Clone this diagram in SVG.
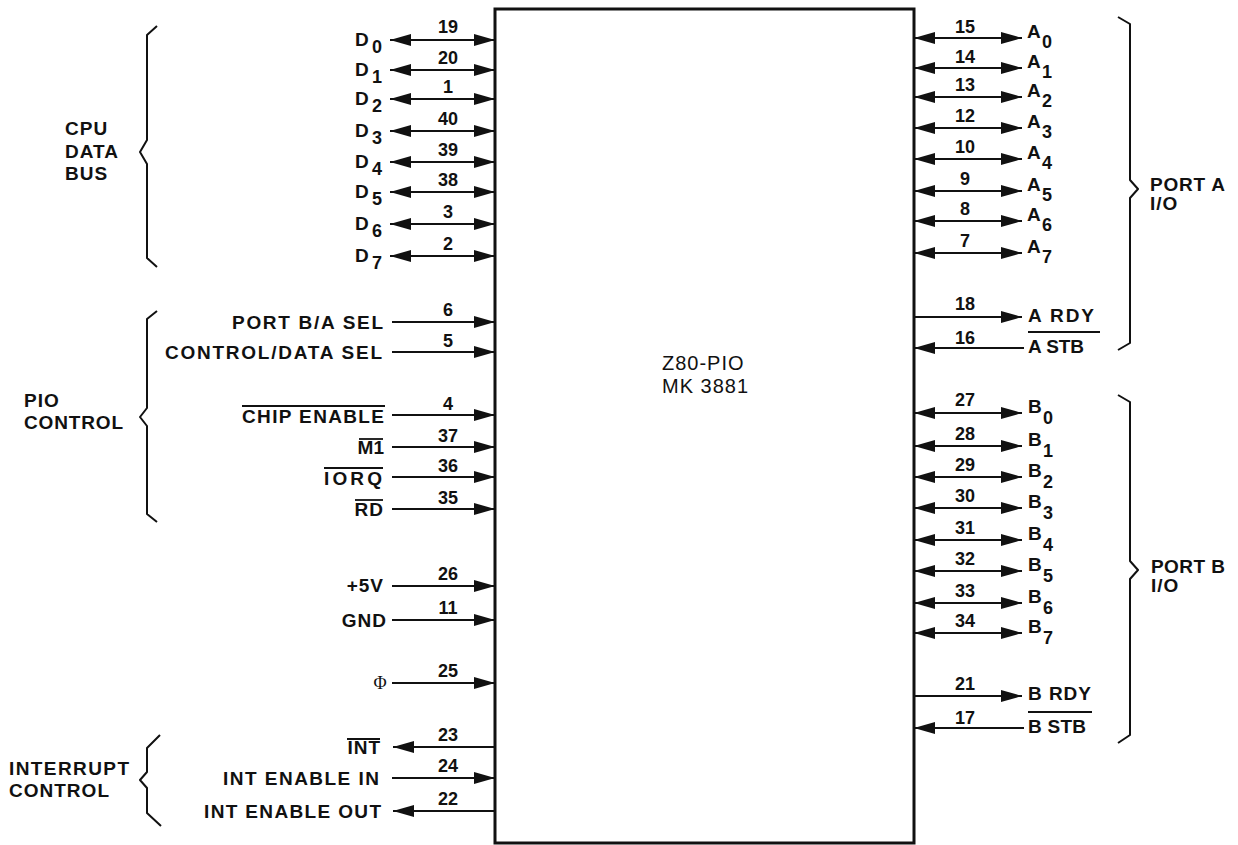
<svg xmlns="http://www.w3.org/2000/svg" width="1238" height="845" viewBox="0 0 1238 845">
<style>
text{font-family:"Liberation Sans",Arial,sans-serif;fill:#111;}
.lb{font-size:19px;font-weight:bold;letter-spacing:1px;}
.e{text-anchor:end;}
.num{font-size:18px;font-weight:bold;text-anchor:middle;}
.sub{font-size:18px;letter-spacing:0;}
.ctr{font-size:20px;font-weight:normal;letter-spacing:1px;}
.w{stroke:#111;stroke-width:2;fill:none;}
.bi{marker-start:url(#ah);marker-end:url(#ah);}
.in{marker-end:url(#ah);}
.ov{stroke:#111;stroke-width:1.8;}
.br{stroke:#111;stroke-width:2;fill:none;stroke-linejoin:round;}
</style>
<defs>
<marker id="ah" markerUnits="userSpaceOnUse" markerWidth="22" markerHeight="12" refX="21" refY="6" orient="auto-start-reverse">
<path d="M0,0 L21,6 L0,12 Z" fill="#111"/>
</marker>
</defs>
<rect width="1238" height="845" fill="#fff"/>

<g id="chip">
<rect x="495" y="9" width="419" height="834" fill="#fff" stroke="#111" stroke-width="3"/>
<text class="ctr" x="662" y="370">Z80-PIO</text>
<text class="ctr" x="662" y="393">MK 3881</text>
</g>

<g id="connectors">
<line class="w bi" x1="390" y1="40" x2="495" y2="40"/>
<line class="w bi" x1="390" y1="70" x2="495" y2="70"/>
<line class="w bi" x1="390" y1="99" x2="495" y2="99"/>
<line class="w bi" x1="390" y1="131" x2="495" y2="131"/>
<line class="w bi" x1="390" y1="162" x2="495" y2="162"/>
<line class="w bi" x1="390" y1="192" x2="495" y2="192"/>
<line class="w bi" x1="390" y1="224" x2="495" y2="224"/>
<line class="w bi" x1="390" y1="256" x2="495" y2="256"/>
<line class="w in" x1="392" y1="322" x2="495" y2="322"/>
<line class="w in" x1="392" y1="352" x2="495" y2="352"/>
<line class="w in" x1="392" y1="415" x2="495" y2="415"/>
<line class="w in" x1="392" y1="447" x2="495" y2="447"/>
<line class="w in" x1="392" y1="477" x2="495" y2="477"/>
<line class="w in" x1="392" y1="509" x2="495" y2="509"/>
<line class="w in" x1="392" y1="586" x2="495" y2="586"/>
<line class="w in" x1="392" y1="620" x2="495" y2="620"/>
<line class="w in" x1="392" y1="683" x2="495" y2="683"/>
<line class="w in" x1="495" y1="747" x2="393" y2="747"/>
<line class="w in" x1="392" y1="778" x2="495" y2="778"/>
<line class="w in" x1="495" y1="811" x2="393" y2="811"/>

<line class="w bi" x1="914" y1="38" x2="1022" y2="38"/>
<line class="w bi" x1="914" y1="68" x2="1022" y2="68"/>
<line class="w bi" x1="914" y1="97" x2="1022" y2="97"/>
<line class="w bi" x1="914" y1="128" x2="1022" y2="128"/>
<line class="w bi" x1="914" y1="159" x2="1022" y2="159"/>
<line class="w bi" x1="914" y1="191" x2="1022" y2="191"/>
<line class="w bi" x1="914" y1="221" x2="1022" y2="221"/>
<line class="w bi" x1="914" y1="253" x2="1022" y2="253"/>
<line class="w in" x1="914" y1="317" x2="1022" y2="317"/>
<line class="w in" x1="1024" y1="348" x2="914" y2="348"/>
<line class="w bi" x1="914" y1="413" x2="1022" y2="413"/>
<line class="w bi" x1="914" y1="446" x2="1022" y2="446"/>
<line class="w bi" x1="914" y1="477" x2="1022" y2="477"/>
<line class="w bi" x1="914" y1="508" x2="1022" y2="508"/>
<line class="w bi" x1="914" y1="540" x2="1022" y2="540"/>
<line class="w bi" x1="914" y1="571" x2="1022" y2="571"/>
<line class="w bi" x1="914" y1="603" x2="1022" y2="603"/>
<line class="w bi" x1="914" y1="633" x2="1022" y2="633"/>
<line class="w in" x1="914" y1="696" x2="1022" y2="696"/>
<line class="w in" x1="1024" y1="728" x2="914" y2="728"/>

<g id="pin-numbers">
<text class="num" x="448" y="33">19</text>
<text class="num" x="448" y="64">20</text>
<text class="num" x="448" y="93">1</text>
<text class="num" x="448" y="125">40</text>
<text class="num" x="448" y="156">39</text>
<text class="num" x="448" y="186">38</text>
<text class="num" x="448" y="218">3</text>
<text class="num" x="448" y="250">2</text>
<text class="num" x="448" y="316">6</text>
<text class="num" x="448" y="347">5</text>
<text class="num" x="448" y="410">4</text>
<text class="num" x="448" y="442">37</text>
<text class="num" x="448" y="472">36</text>
<text class="num" x="448" y="504">35</text>
<text class="num" x="448" y="580">26</text>
<text class="num" x="448" y="614">11</text>
<text class="num" x="448" y="677">25</text>
<text class="num" x="448" y="741">23</text>
<text class="num" x="448" y="772">24</text>
<text class="num" x="448" y="805">22</text>
<text class="num" x="965" y="33">15</text>
<text class="num" x="965" y="63">14</text>
<text class="num" x="965" y="91">13</text>
<text class="num" x="965" y="122">12</text>
<text class="num" x="965" y="153">10</text>
<text class="num" x="965" y="185">9</text>
<text class="num" x="965" y="215">8</text>
<text class="num" x="965" y="247">7</text>
<text class="num" x="965" y="310">18</text>
<text class="num" x="965" y="344">16</text>
<text class="num" x="965" y="406">27</text>
<text class="num" x="965" y="440">28</text>
<text class="num" x="965" y="471">29</text>
<text class="num" x="965" y="502">30</text>
<text class="num" x="965" y="534">31</text>
<text class="num" x="965" y="565">32</text>
<text class="num" x="965" y="597">33</text>
<text class="num" x="965" y="627">34</text>
<text class="num" x="965" y="690">21</text>
<text class="num" x="965" y="724">17</text>
</g>
</g>

<g id="D0"><text class="lb" x="355" y="46">D<tspan class="sub" x="372" y="53">0</tspan></text></g>
<g id="D1"><text class="lb" x="355" y="76">D<tspan class="sub" x="372" y="83">1</tspan></text></g>
<g id="D2"><text class="lb" x="355" y="105">D<tspan class="sub" x="372" y="112">2</tspan></text></g>
<g id="D3"><text class="lb" x="355" y="137">D<tspan class="sub" x="372" y="144">3</tspan></text></g>
<g id="D4"><text class="lb" x="355" y="168">D<tspan class="sub" x="372" y="175">4</tspan></text></g>
<g id="D5"><text class="lb" x="355" y="198">D<tspan class="sub" x="372" y="205">5</tspan></text></g>
<g id="D6"><text class="lb" x="355" y="230">D<tspan class="sub" x="372" y="237">6</tspan></text></g>
<g id="D7"><text class="lb" x="355" y="262">D<tspan class="sub" x="372" y="269">7</tspan></text></g>

<g id="port-ba-sel"><text class="lb" x="232" y="329" textLength="152" lengthAdjust="spacing">PORT B/A SEL</text></g>
<g id="control-data-sel"><text class="lb" x="165" y="359" textLength="218" lengthAdjust="spacing">CONTROL/DATA SEL</text></g>
<g id="chip-enable"><text class="lb" x="242" y="423" textLength="143" lengthAdjust="spacing">CHIP ENABLE</text><line class="ov" x1="242" y1="406" x2="385" y2="406"/></g>
<g id="m1"><text class="lb e" x="384" y="454" style="letter-spacing:0">M1</text><line class="ov" x1="359" y1="439" x2="383" y2="439"/></g>
<g id="iorq"><text class="lb" x="324" y="485" textLength="59" lengthAdjust="spacing">IORQ</text><line class="ov" x1="324" y1="468" x2="383" y2="468"/></g>
<g id="rd"><text class="lb e" x="384" y="516">RD</text><line class="ov" x1="355" y1="500" x2="383" y2="500"/></g>
<g id="vcc"><text class="lb e" x="384" y="592">+5V</text></g>
<g id="gnd"><text class="lb e" x="387" y="627">GND</text></g>
<g id="phi"><text x="380" y="689" text-anchor="middle" style="font-family:'Liberation Serif',serif;font-size:18px;">Φ</text></g>
<g id="int"><text class="lb e" x="381" y="754">INT</text><line class="ov" x1="347" y1="739" x2="380" y2="739"/></g>
<g id="int-enable-in"><text class="lb" x="223" y="785" textLength="157" lengthAdjust="spacing">INT ENABLE IN</text></g>
<g id="int-enable-out"><text class="lb" x="204" y="818" textLength="178" lengthAdjust="spacing">INT ENABLE OUT</text></g>

<g id="A0"><text class="lb" x="1027" y="38">A<tspan class="sub" x="1042" y="48">0</tspan></text></g>
<g id="A1"><text class="lb" x="1027" y="68">A<tspan class="sub" x="1042" y="78">1</tspan></text></g>
<g id="A2"><text class="lb" x="1027" y="97">A<tspan class="sub" x="1042" y="107">2</tspan></text></g>
<g id="A3"><text class="lb" x="1027" y="128">A<tspan class="sub" x="1042" y="138">3</tspan></text></g>
<g id="A4"><text class="lb" x="1027" y="159">A<tspan class="sub" x="1042" y="169">4</tspan></text></g>
<g id="A5"><text class="lb" x="1027" y="191">A<tspan class="sub" x="1042" y="201">5</tspan></text></g>
<g id="A6"><text class="lb" x="1027" y="221">A<tspan class="sub" x="1042" y="231">6</tspan></text></g>
<g id="A7"><text class="lb" x="1027" y="253">A<tspan class="sub" x="1042" y="263">7</tspan></text></g>
<g id="a-rdy"><text class="lb" x="1028" y="322" textLength="67" lengthAdjust="spacing">A RDY</text></g>
<g id="a-stb"><text class="lb" x="1028" y="353" textLength="57" lengthAdjust="spacing">A STB</text><line class="ov" x1="1028" y1="332" x2="1100" y2="332"/></g>

<g id="B0"><text class="lb" x="1028" y="413">B<tspan class="sub" x="1043" y="424">0</tspan></text></g>
<g id="B1"><text class="lb" x="1028" y="446">B<tspan class="sub" x="1043" y="457">1</tspan></text></g>
<g id="B2"><text class="lb" x="1028" y="477">B<tspan class="sub" x="1043" y="488">2</tspan></text></g>
<g id="B3"><text class="lb" x="1028" y="508">B<tspan class="sub" x="1043" y="519">3</tspan></text></g>
<g id="B4"><text class="lb" x="1028" y="540">B<tspan class="sub" x="1043" y="551">4</tspan></text></g>
<g id="B5"><text class="lb" x="1028" y="571">B<tspan class="sub" x="1043" y="582">5</tspan></text></g>
<g id="B6"><text class="lb" x="1028" y="603">B<tspan class="sub" x="1043" y="614">6</tspan></text></g>
<g id="B7"><text class="lb" x="1028" y="633">B<tspan class="sub" x="1043" y="644">7</tspan></text></g>
<g id="b-rdy"><text class="lb" x="1028" y="700" textLength="64" lengthAdjust="spacing">B RDY</text></g>
<g id="b-stb"><text class="lb" x="1028" y="733" textLength="59" lengthAdjust="spacing">B STB</text><line class="ov" x1="1028" y1="712" x2="1092" y2="712"/></g>

<g id="cpu-data-bus">
<path class="br" d="M157,26 L147,35 L147,140 L140,152 L147,164 L147,258 L157,267"/>
<text class="lb" x="65" y="135">CPU</text>
<text class="lb" x="65" y="158">DATA</text>
<text class="lb" x="65" y="180">BUS</text>
</g>
<g id="pio-control">
<path class="br" d="M157,311 L147,319 L147,408 L140,417 L147,426 L147,514 L157,522"/>
<text class="lb" x="24" y="407">PIO</text>
<text class="lb" x="24" y="429" textLength="100" lengthAdjust="spacing">CONTROL</text>
</g>
<g id="interrupt-control">
<path class="br" d="M160,735 L147,748 L147,772 L140,780 L147,788 L147,813 L161,826"/>
<text class="lb" x="9" y="775" textLength="121" lengthAdjust="spacing">INTERRUPT</text>
<text class="lb" x="9" y="797" textLength="101" lengthAdjust="spacing">CONTROL</text>
</g>
<g id="port-a-io">
<path class="br" d="M1118,17 L1130,24 L1130,180 L1138,189 L1130,198 L1130,343 L1118,350"/>
<text class="lb" x="1150" y="191" textLength="76" lengthAdjust="spacing">PORT A</text>
<text class="lb" x="1150" y="210">I/O</text>
</g>
<g id="port-b-io">
<path class="br" d="M1118,395 L1130,402 L1130,561 L1138,570 L1130,579 L1130,735 L1118,743"/>
<text class="lb" x="1151" y="573" textLength="75" lengthAdjust="spacing">PORT B</text>
<text class="lb" x="1151" y="592">I/O</text>
</g>
</svg>
